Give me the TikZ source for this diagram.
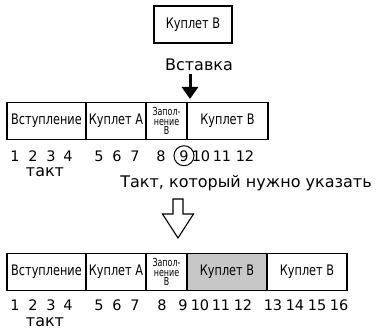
\documentclass[tikz,border=0pt]{standalone}
\usepackage{fontspec}
\setmainfont{DejaVu Sans}
\newfontfamily\narrowfont[FakeStretch=0.78]{DejaVu Sans}
\newfontfamily\tightfont[FakeStretch=0.72]{DejaVu Sans}
\usepackage{xcolor}
\usetikzlibrary{arrows.meta,positioning}

\begin{document}
\begin{tikzpicture}[
  x=1pt, y=-1pt,
  section/.style={draw, rectangle, line width=1.6pt, minimum height=37pt, inner sep=0pt, outer sep=0pt, font=\narrowfont\fontsize{14.5}{16}\selectfont},
  fillsec/.style={section, align=center, font=\tightfont\fontsize{11}{9.5}\selectfont},
  barno/.style={anchor=base, inner sep=0pt, font=\fontsize{14.5}{17}\selectfont},
  label/.style={anchor=base, inner sep=0pt, font=\fontsize{16}{18}\selectfont},
  flow/.style={-{Triangle[length=12pt,width=16pt]}, line width=3pt, draw=black},
  hollow/.style={line width=1.1pt, draw=black, fill=white, line join=miter},
]
\useasboundingbox (0,0) rectangle (383,329);

% Verse B to be inserted
\node[section, minimum width=78pt] (new) at (193,24.5) {Куплет В};
\node[label] (vst) at (199,70.7) {Вставка};

% Original song
\node[section, minimum width=79pt] (a1) at (46.5,121) {Вступление};
\node[section, minimum width=60pt, right=0pt of a1] (a2) {Куплет А};
\node[fillsec, minimum width=41pt, right=0pt of a2] (a3) {Запол-\\нение\\В};
\node[section, minimum width=81pt, right=0pt of a3] (a4) {Куплет В};
\coordinate (ins) at (190,99);
\draw[flow] ([yshift=-3pt]vst.south -| ins) -- (ins);

\foreach \n/\x in {1/15,2/33,3/51,4/68,5/99,6/117,7/135,8/161,9/184,10/201,11/222,12/245}
  \node[barno] (t\n) at (\x,161) {\n};
\node[draw, circle, line width=1pt, minimum size=20pt, inner sep=0pt] (pick) at (t9) {};
\node[label] (takt1) at (45,176) {такт};
\node[label] (hint) at (246,187) {Такт, который нужно указать};

% Hollow arrow
\draw[hollow] (173,199) -- (173,214) -- (162.5,214) -- (178,238) -- (193.5,214) -- (183,214) -- (183,199) -- cycle;

% Song after insertion
\node[section, minimum width=79pt] (b1) at (46.5,272) {Вступление};
\node[section, minimum width=60pt, right=0pt of b1] (b2) {Куплет А};
\node[fillsec, minimum width=41pt, right=0pt of b2] (b3) {Запол-\\нение\\В};
\node[section, minimum width=80pt, fill=black!22, right=0pt of b3] (b4) {Куплет В};
\node[section, minimum width=80pt, right=0pt of b4] (b5) {Куплет В};

\foreach \n/\x in {1/15,2/33,3/51,4/68,5/99,6/117,7/135,8/162,9/183,10/200,11/221,12/243,13/273,14/295,15/317,16/339}
  \node[barno] (s\n) at (\x,310.5) {\n};
\node[label] (takt2) at (45,326) {такт};

\end{tikzpicture}
\end{document}
